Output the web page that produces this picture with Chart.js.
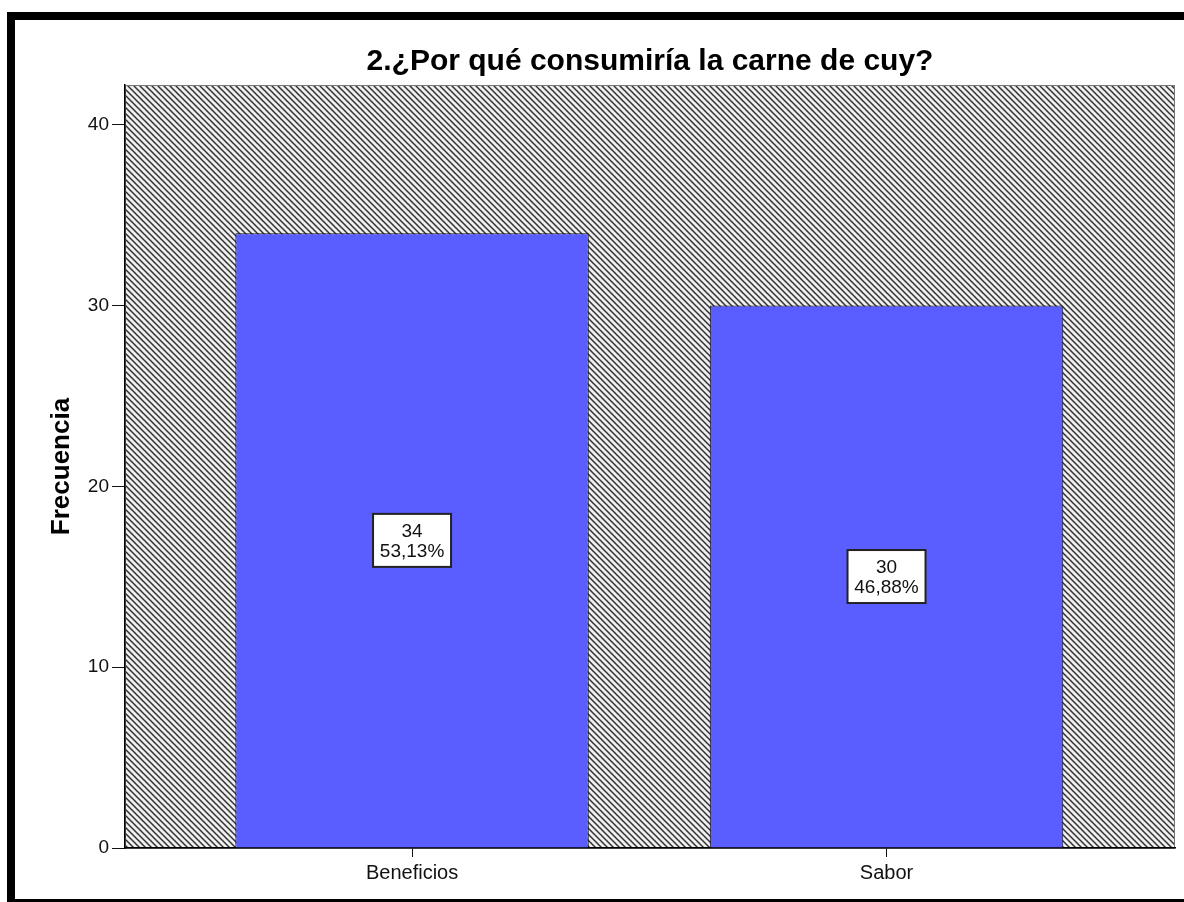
<!DOCTYPE html>
<html lang="es">
<head>
  <meta charset="UTF-8" />
  <title>2.¿Por qué consumiría la carne de cuy?</title>
  <style>
    body {
      margin: 0;
      background-color: #fff;
      width: 1184px;
      height: 902px;
      overflow: hidden;
      position: relative;
    }
    #frame {
      position: absolute;
      left: 7px;
      top: 12px;
      width: 1200px;
      height: 879px;
      border: 8px solid #000;
    }
    #wrap {
      position: absolute;
      left: 0;
      top: 0;
      width: 1184px;
      height: 902px;
    }
  </style>
</head>
<body>
  <div id="frame"></div>
  <div id="wrap"><canvas id="cuyChart" width="1184" height="902"></canvas></div>

  <script src="https://cdn.jsdelivr.net/npm/chart.js"></script>
  <script>
    // datos
    const categories = ['Beneficios', 'Sabor'];
    const counts = [34, 30];
    const percents = ['53,13%', '46,88%'];
    const yTicks = [0, 10, 20, 30, 40];

    const FONT = 'Arial, "Liberation Sans", sans-serif';

    // diagonal hatch tile for the plot background
    function makeHatch() {
      const c = document.createElement('canvas');
      c.width = 6; c.height = 6;
      const g = c.getContext('2d');
      g.fillStyle = '#efefef';
      g.fillRect(0, 0, 6, 6);
      g.strokeStyle = '#333';
      g.lineWidth = 1.5;
      g.beginPath();
      g.moveTo(-1, -1); g.lineTo(7, 7);
      g.moveTo(-7, -1); g.lineTo(1, 7);
      g.moveTo(5, -1); g.lineTo(13, 7);
      g.stroke();
      return c;
    }

    const hatchPlugin = {
      id: 'hatch',
      beforeDraw(chart) {
        const { ctx, chartArea: a } = chart;
        ctx.save();
        ctx.fillStyle = ctx.createPattern(makeHatch(), 'repeat');
        ctx.fillRect(a.left, a.top, a.right - a.left, a.bottom - a.top);
        ctx.strokeStyle = '#777';
        ctx.lineWidth = 1;
        ctx.strokeRect(a.left + 0.5, a.top + 0.5, a.right - a.left - 1, a.bottom - a.top);
        ctx.restore();
      }
    };

    const boxLabels = {
      id: 'boxLabels',
      afterDatasetsDraw(chart) {
        const { ctx } = chart;
        const meta = chart.getDatasetMeta(0);
        ctx.save();
        meta.data.forEach((bar, i) => {
          const cy = (bar.y + bar.base) / 2;
          const w = 78, h = 53;
          ctx.fillStyle = '#fff';
          ctx.fillRect(bar.x - w / 2, cy - h / 2, w, h);
          ctx.strokeStyle = '#222';
          ctx.lineWidth = 2;
          ctx.strokeRect(bar.x - w / 2, cy - h / 2, w, h);
          ctx.fillStyle = '#111';
          ctx.font = '19px ' + FONT;
          ctx.textAlign = 'center';
          ctx.textBaseline = 'middle';
          ctx.fillText(String(counts[i]), bar.x, cy - 9);
          ctx.fillText(percents[i], bar.x, cy + 11);
        });
        ctx.restore();
      }
    };

    const ctx = document.getElementById('cuyChart').getContext('2d');

    new Chart(ctx, {
      type: 'bar',
      data: {
        datasets: [{
          label: 'Frecuencia',
          data: counts.map((v, i) => ({ x: i + 1, y: v })),
          backgroundColor: '#5b5eff',
          borderColor: '#111',
          borderWidth: 1,
          barPercentage: 0.745,
          categoryPercentage: 1
        }]
      },
      options: {
        responsive: false,
        animation: false,
        layout: { padding: { left: 0, right: 9, top: 0, bottom: 0 } },
        plugins: {
          legend: { display: false },
          tooltip: { enabled: false },
          title: {
            display: true,
            fullSize: false,
            text: '2.¿Por qué consumiría la carne de cuy?',
            color: '#000',
            font: { family: FONT, size: 30, weight: 'bold' },
            padding: { top: 44, bottom: 5 }
          }
        },
        scales: {
          x: {
            type: 'linear',
            offset: false,
            min: 0.395,
            max: 2.608,
            afterBuildTicks(scale) {
              scale.ticks = categories.map((c, i) => ({ value: i + 1 }));
            },
            afterFit(scale) { scale.height = 54; },
            ticks: {
              color: '#111',
              font: { family: FONT, size: 20 },
              padding: 4,
              callback: (v) => categories[v - 1]
            },
            grid: { offset: false, drawOnChartArea: false, tickLength: 9, color: '#111' },
            border: { color: '#000', width: 1.5 }
          },
          y: {
            min: 0,
            max: 42.2,
            afterBuildTicks(scale) {
              scale.ticks = yTicks.map(v => ({ value: v }));
            },
            afterFit(scale) { scale.width = 125; },
            ticks: {
              color: '#111',
              font: { family: FONT, size: 19 },
              padding: 3
            },
            grid: { drawOnChartArea: false, tickLength: 13, color: '#111' },
            border: { color: '#000', width: 1.5 },
            title: {
              display: true,
              text: 'Frecuencia',
              color: '#000',
              font: { family: FONT, size: 26, weight: 'bold' },
              padding: { top: 46 }
            }
          }
        }
      },
      plugins: [hatchPlugin, boxLabels]
    });
  </script>
</body>
</html>
